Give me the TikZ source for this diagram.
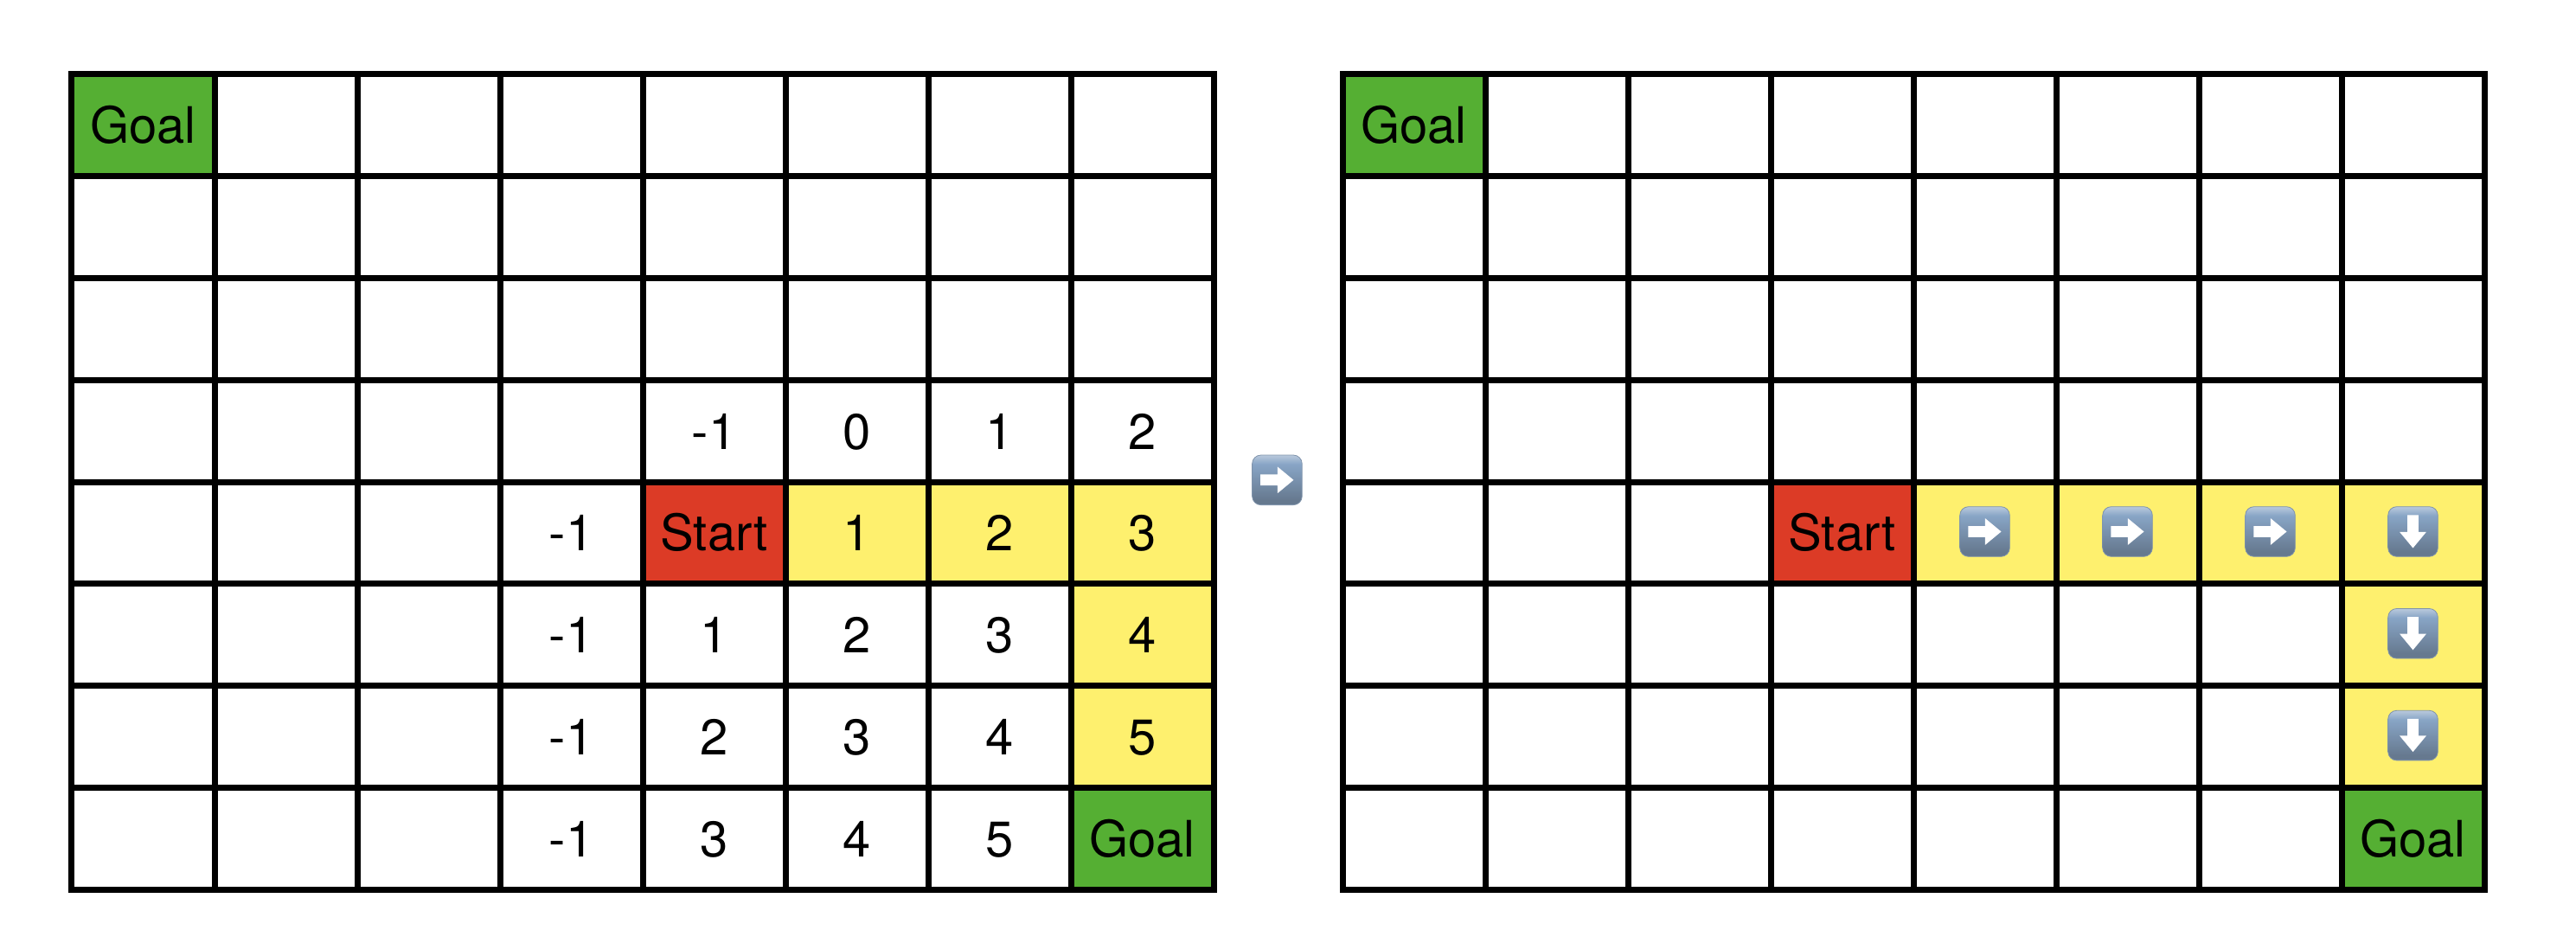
\documentclass[tikz,border=0pt]{standalone}
\usepackage{fontspec}
\setmainfont{TeX Gyre Heros}
\usepackage{xcolor}
\definecolor{goalgreen}{HTML}{55AF33}
\definecolor{startred}{HTML}{DC3B26}
\definecolor{pathyellow}{HTML}{FEF06E}
\definecolor{tilelight}{HTML}{B9C9DC}
\definecolor{tiletop}{HTML}{88A5C6}
\definecolor{tilebottom}{HTML}{66798F}
\definecolor{tileedge}{HTML}{7F93AB}
\pgfdeclareverticalshading{tilegrad}{100bp}{color(0bp)=(tilebottom); color(30bp)=(tilebottom); color(66bp)=(tiletop); color(75bp)=(tilelight); color(100bp)=(tilelight)}
\tikzset{%
	cell/.style  = {draw, rectangle, line width=3.5pt, inner sep=0pt, outer sep=0pt, minimum width=82.5pt, minimum height=58.9pt, font=\fontsize{29}{29}\selectfont, text height=20.9pt, text depth=0pt, align=center},
	goal/.style  = {cell, fill=goalgreen},
	start/.style = {cell, fill=startred},
	visited/.style = {cell, fill=pathyellow},
	plain/.style = {font=\fontsize{29}{29}\selectfont, inner sep=0pt, text height=20.9pt, text depth=0pt},
	tile/.style  = {rectangle, rounded corners=5pt, draw=tileedge, line width=0.4pt, shading=tilegrad, minimum size=28.8pt, inner sep=0pt, outer sep=0pt},
	movetile/.pic = {
		\node[tile] (-box) at (0,0) {};
		\fill[white,rotate=#1] (-9.6pt,3.2pt) -- (0.2pt,3.2pt) -- (0.2pt,7.7pt) -- (9.5pt,0pt) -- (0.2pt,-7.7pt) -- (0.2pt,-3.2pt) -- (-9.6pt,-3.2pt) -- cycle;
	},
}
\begin{document}
\begin{tikzpicture}[x=82.5pt,y=58.9pt]
	\useasboundingbox (-41.5pt,43pt) rectangle (1447.5pt,-502pt);

	% left grid
	\foreach \c in {0,...,7}
		\foreach \r in {0,...,7}
			\node[cell] (l-\c-\r) at (\c+.5,-\r-.5) {};
	\node[goal] (lgoal1) at (l-0-0) {Goal};
	\node[start] (lstart) at (l-4-4) {Start};
	\node[goal] (lgoal2) at (l-7-7) {Goal};
	\foreach \c/\r/\v in {5/4/1,6/4/2,7/4/3,7/5/4,7/6/5}
		\node[visited] (lpath-\c-\r) at (l-\c-\r) {\v};
	\foreach \c/\r/\v in {4/3/-1,5/3/0,6/3/1,7/3/2,3/4/-1,3/5/-1,4/5/1,5/5/2,6/5/3,3/6/-1,4/6/2,5/6/3,6/6/4,3/7/-1,4/7/3,5/7/4,6/7/5}
		\node[plain] (lval-\c-\r) at (l-\c-\r) {\v};

	\pic (between) at (8.445,-3.98) {movetile=0};

	% right grid
	\begin{scope}[xshift=734.5pt]
		\foreach \c in {0,...,7}
			\foreach \r in {0,...,7}
				\node[cell] (r-\c-\r) at (\c+.5,-\r-.5) {};
		\node[goal] (rgoal1) at (r-0-0) {Goal};
		\node[start] (rstart) at (r-3-4) {Start};
		\node[goal] (rgoal2) at (r-7-7) {Goal};
		\foreach \c/\r in {4/4,5/4,6/4,7/4,7/5,7/6}
			\node[visited] (rpath-\c-\r) at (r-\c-\r) {};
		\foreach \c/\r/\a in {4/4/0,5/4/0,6/4/0,7/4/-90,7/5/-90,7/6/-90}
			\pic[yshift=0.8pt] (rmove-\c-\r) at (\c+.5,-\r-.5) {movetile=\a};
	\end{scope}
\end{tikzpicture}
\end{document}
